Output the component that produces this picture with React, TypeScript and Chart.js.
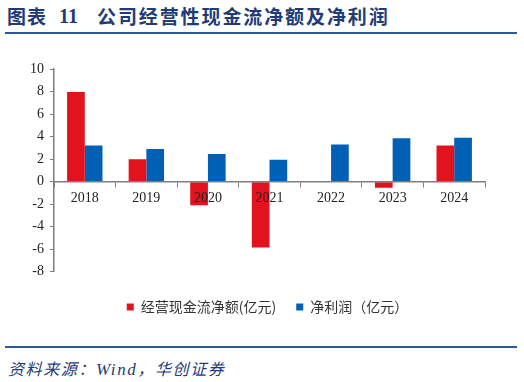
import React, { useEffect, useRef } from 'react';
import { Chart, registerables } from 'chart.js';
Chart.register(...registerables);

const years = ['2018', '2019', '2020', '2021', '2022', '2023', '2024'];
const operatingCashFlow = [7.95, 2.0, -2.1, -5.85, -0.05, -0.55, 3.2];
const netProfit = [3.2, 2.9, 2.45, 1.95, 3.3, 3.85, 3.9];
const seriesLabels = ['经营现金流净额(亿元)', '净利润（亿元）'];
const yMin = -8;
const yMax = 10;
const yStep = 2;

const RED = '#E3131D';
const BLUE = '#0060B5';
const AXIS = '#7F7F7F';
const NAVY = '#1F3C78';

const legendShift = {
  id: 'legendShift',
  afterLayout(chart: any) {
    const lg = chart.legend;
    if (lg) {
      lg.left += 25;
      lg.right += 25;
    }
  },
};

export default function App() {
  const ref = useRef<HTMLCanvasElement | null>(null);
  useEffect(() => {
    if (!ref.current) return;
    const chart = new Chart(ref.current, {
      type: 'bar',
      data: {
        labels: years,
        datasets: [
          { label: seriesLabels[0], data: operatingCashFlow, backgroundColor: RED, borderWidth: 0 },
          { label: seriesLabels[1], data: netProfit, backgroundColor: BLUE, borderWidth: 0 },
        ],
      },
      plugins: [legendShift],
      options: {
        animation: false,
        responsive: false,
        maintainAspectRatio: false,
        datasets: { bar: { categoryPercentage: 0.575, barPercentage: 1.0 } },
        layout: { padding: { left: 0, right: 39, top: 29, bottom: 6 } },
        plugins: {
          tooltip: { enabled: false },
          legend: {
            position: 'bottom',
            title: { display: true, text: '', font: { size: 1 }, padding: { top: 7, bottom: 0 } },
            labels: {
              boxWidth: 7,
              boxHeight: 7,
              padding: 20,
              color: '#333',
              font: { family: '"Noto Sans CJK SC", sans-serif', size: 14 },
            },
          },
        },
        scales: {
          x: {
            position: { y: 0 },
            grid: { display: true, drawOnChartArea: false, drawTicks: true, tickLength: 5, offset: true, color: AXIS, lineWidth: 1, z: 1 },
            border: { display: true, color: AXIS, width: 1.5, z: 1 },
            ticks: { z: 1, color: '#222', padding: 3, font: { family: '"Liberation Serif", serif', size: 14 } },
          },
          y: {
            min: yMin,
            max: yMax,
            afterFit: (s: any) => { s.width = 54; },
            grid: { display: true, drawOnChartArea: false, drawTicks: true, tickLength: 4, color: AXIS },
            border: { display: true, color: AXIS, width: 1.5 },
            ticks: { stepSize: yStep, color: '#222', padding: 6, font: { family: '"Liberation Serif", serif', size: 14 } },
          },
        },
      },
    });
    return () => chart.destroy();
  }, []);

  return (
    <div style={{ position: 'fixed', left: 0, top: 0, width: 524, height: 382, background: '#fff', overflow: 'hidden' }}>
      <div style={{ position: 'absolute', left: 7, top: 5, lineHeight: '22px', fontSize: 19, fontWeight: 'bold', color: NAVY, fontFamily: '"Noto Sans CJK SC", sans-serif', whiteSpace: 'nowrap' }}>
        <span style={{ letterSpacing: 1 }}>图表</span>
      </div>
      <div style={{ position: 'absolute', left: 59, top: 5, lineHeight: '22px', fontSize: 20, fontWeight: 'bold', color: NAVY, fontFamily: '"Liberation Serif", serif' }}>11</div>
      <div style={{ position: 'absolute', left: 97, top: 5, lineHeight: '22px', fontSize: 19, fontWeight: 'bold', color: NAVY, fontFamily: '"Noto Sans CJK SC", sans-serif', letterSpacing: 1.9, whiteSpace: 'nowrap' }}>
        公司经营性现金流净额及净利润
      </div>
      <div style={{ position: 'absolute', left: 5, top: 32, width: 512, height: 2, background: '#2A5A98' }} />
      <canvas ref={ref} width={524} height={290} style={{ position: 'absolute', left: 0, top: 40, width: 524, height: 290 }} />
      <div style={{ position: 'absolute', left: 5, top: 346, width: 512, height: 2, background: '#2A5A98' }} />
      <div style={{ position: 'absolute', left: 8, top: 357, lineHeight: '22px', fontSize: 16, fontStyle: 'italic', color: NAVY, fontFamily: '"Noto Sans CJK SC", "Liberation Serif", serif', letterSpacing: 1.6, whiteSpace: 'nowrap' }}>
        资料来源：<span style={{ fontFamily: '"Liberation Serif", serif', fontSize: 17 }}>Wind</span>，华创证券
      </div>
    </div>
  );
}
